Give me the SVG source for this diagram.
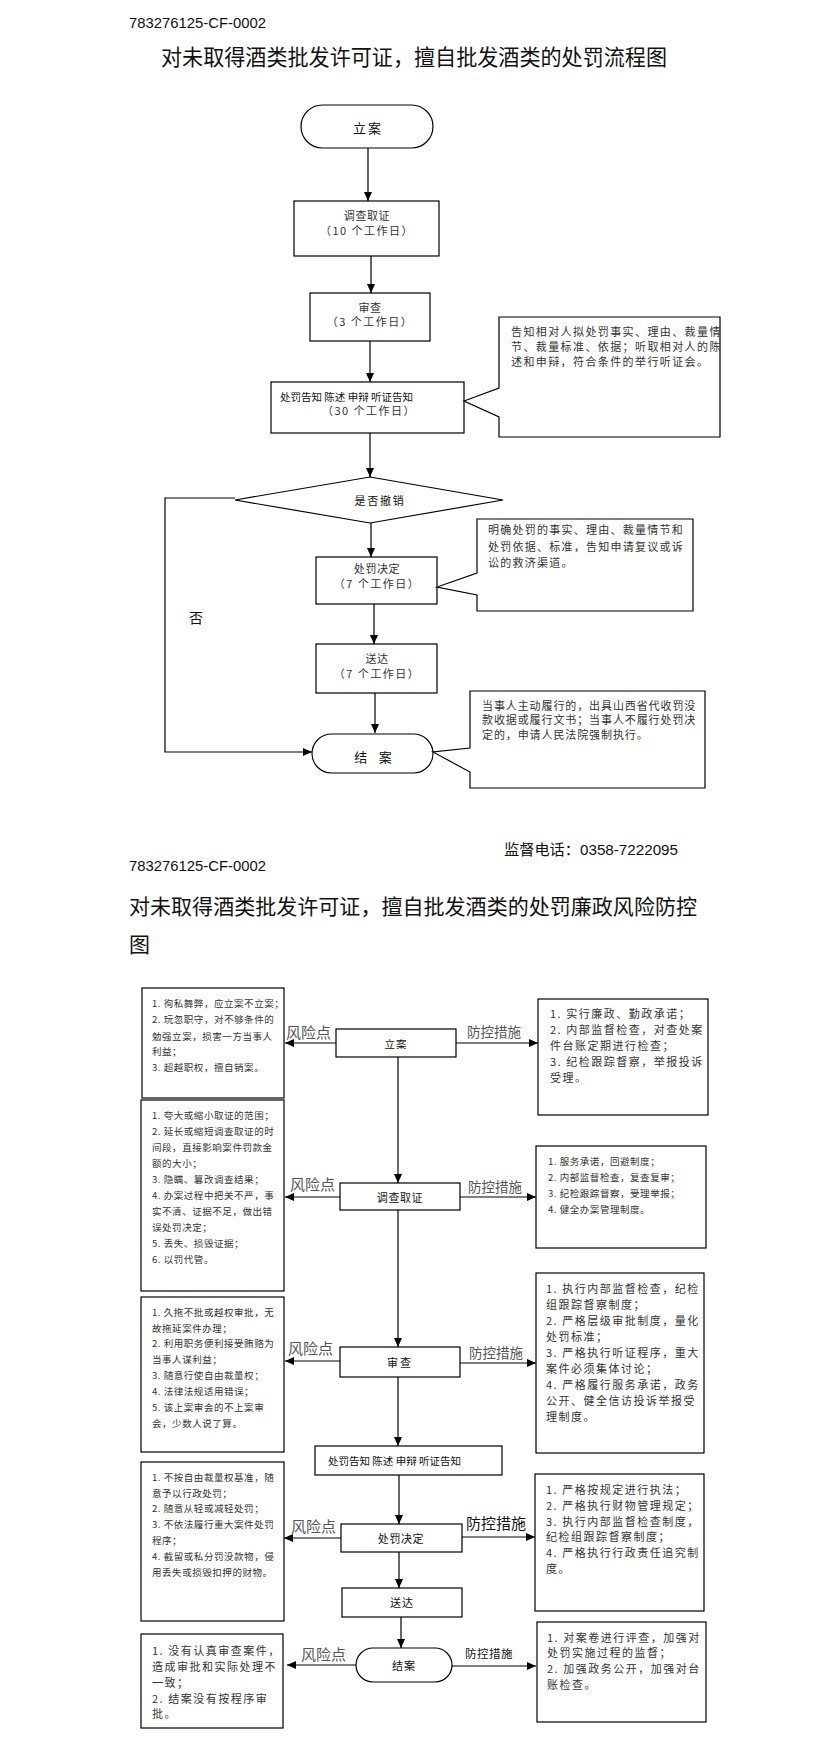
<svg xmlns="http://www.w3.org/2000/svg" width="823" height="1744" viewBox="0 0 823 1744">
<style>
.bg{fill:#fff}
.box{fill:#fff;stroke:#000;stroke-width:1.2}
.ln{fill:none;stroke:#000;stroke-width:1.2}
.hl{fill:none;stroke:#555;stroke-width:1.5}
.cj{font-family:"Noto Sans CJK SC","Noto Sans CJK JP",sans-serif;fill:#111}
.num{font-family:"Liberation Sans","Noto Sans CJK SC",sans-serif;fill:#111}
.c{text-anchor:middle;dominant-baseline:central}
.m{dominant-baseline:central}
.bt{font-size:11px;letter-spacing:0.6px;fill:#333}
.co{font-size:11px;fill:#333}
.sm{font-size:9.5px;letter-spacing:0.55px;fill:#333}
.md{font-size:11px;letter-spacing:1.5px;fill:#333}
.lb{font-size:15px;fill:#555}
.lb2{font-size:13.5px;fill:#555}
</style>
<defs>
<marker id="ah" markerWidth="10" markerHeight="8" refX="9" refY="4" orient="auto" markerUnits="userSpaceOnUse"><path d="M0,0 L9,4 L0,8 z" fill="#000"/></marker>
</defs>
<rect class="bg" x="0" y="0" width="823" height="1744"/>

<text class="num" x="129" y="28" font-size="15" textLength="137" lengthAdjust="spacingAndGlyphs">783276125-CF-0002</text>
<text class="cj m" x="161" y="55" font-size="22" textLength="506" lengthAdjust="spacingAndGlyphs">对未取得酒类批发许可证，擅自批发酒类的处罚流程图</text>

<g id="connectors1">
<line class="ln" x1="368" y1="148" x2="368" y2="201" marker-end="url(#ah)"/>
<line class="ln" x1="371" y1="256" x2="371" y2="293" marker-end="url(#ah)"/>
<line class="ln" x1="370" y1="341" x2="370" y2="382" marker-end="url(#ah)"/>
<line class="ln" x1="370" y1="433" x2="370" y2="477" marker-end="url(#ah)"/>
<line class="ln" x1="371" y1="523" x2="371" y2="557" marker-end="url(#ah)"/>
<line class="ln" x1="374" y1="604" x2="374" y2="644" marker-end="url(#ah)"/>
<line class="ln" x1="375" y1="693" x2="375" y2="733" marker-end="url(#ah)"/>
<polyline class="ln" points="235,498 165,498 165,752 312,752" marker-end="url(#ah)"/>
<text class="cj c" x="196" y="617" font-size="14">否</text>
</g>

<g id="n1-lian">
<rect class="box" x="301" y="105" width="132" height="43" rx="21.5"/>
<text class="cj c" x="368" y="127" font-size="13" letter-spacing="2">立案</text>
</g>
<g id="n1-diaocha">
<rect class="box" x="294" y="201" width="145" height="55"/>
<text class="cj c bt" x="367" y="215">调查取证</text>
<text class="cj c md" x="367" y="230">（10 个工作日）</text>
</g>
<g id="n1-shencha">
<rect class="box" x="310" y="293" width="120" height="48"/>
<text class="cj c bt" x="370" y="307">审查</text>
<text class="cj c md" x="370" y="321">（3 个工作日）</text>
</g>
<g id="n1-gaozhi">
<rect class="box" x="271" y="382" width="193" height="51"/>
<text class="cj m" x="280" y="396" font-size="10.5" fill="#333" xml:space="preserve">处罚告知 陈述 申辩 听证告知</text>
<text class="cj c md" x="369" y="410">（30 个工作日）</text>
</g>
<g id="n1-note1">
<path class="box" d="M499,317 H720 V437 H499 V417 L464,401 L499,388 Z"/>
<text class="cj co" x="511" y="336" letter-spacing="1.4">告知相对人拟处罚事实、理由、裁量情</text>
<text class="cj co" x="511" y="351" letter-spacing="1.4">节、裁量标准、依据；听取相对人的陈</text>
<text class="cj co" x="511" y="366" letter-spacing="1.4">述和申辩，符合条件的举行听证会。</text>
</g>
<g id="n1-decision">
<polygon class="box" points="370,477 503,500 370,523 235,500"/>
<text class="cj c" x="380" y="500" font-size="11" letter-spacing="1.8" fill="#333">是否撤销</text>
</g>
<g id="n1-jueding">
<rect class="box" x="316" y="557" width="121" height="47"/>
<text class="cj c bt" x="377" y="568">处罚决定</text>
<text class="cj c md" x="377" y="583">（7 个工作日）</text>
</g>
<g id="n1-note2">
<path class="box" d="M477,519 H693 V611 H477 V595 L437,587 L477,573 Z"/>
<text class="cj co" x="488" y="534" letter-spacing="1.25">明确处罚的事实、理由、裁量情节和</text>
<text class="cj co" x="488" y="551" letter-spacing="1.25">处罚依据、标准，告知申请复议或诉</text>
<text class="cj co" x="488" y="567" letter-spacing="1.25">讼的救济渠道。</text>
</g>
<g id="n1-songda">
<rect class="box" x="316" y="644" width="121" height="49"/>
<text class="cj c bt" x="377" y="658">送达</text>
<text class="cj c md" x="377" y="673">（7 个工作日）</text>
</g>
<g id="n1-jiean">
<rect class="box" x="312" y="734" width="121" height="39" rx="19.5"/>
<text class="cj c" x="373" y="756" font-size="13" xml:space="preserve">结    案</text>
</g>
<g id="n1-note3">
<path class="box" d="M470,691 H705 V788 H470 V772 L433,752 L470,748 Z"/>
<text class="cj co" x="482" y="710" letter-spacing="0.9">当事人主动履行的，出具山西省代收罚没</text>
<text class="cj co" x="482" y="724" letter-spacing="0.9">款收据或履行文书；当事人不履行处罚决</text>
<text class="cj co" x="482" y="739" letter-spacing="0.9">定的，申请人民法院强制执行。</text>
</g>

<text class="num" x="504" y="855" font-size="15" textLength="174" lengthAdjust="spacingAndGlyphs">监督电话：0358-7222095</text>
<text class="num" x="129" y="871" font-size="15" textLength="137" lengthAdjust="spacingAndGlyphs">783276125-CF-0002</text>
<text class="cj m" x="129" y="905" font-size="21" textLength="568" lengthAdjust="spacingAndGlyphs">对未取得酒类批发许可证，擅自批发酒类的处罚廉政风险防控</text>
<text class="cj m" x="129" y="943" font-size="21">图</text>

<g id="connectors2">
<line class="ln" x1="398" y1="1057" x2="398" y2="1183" marker-end="url(#ah)"/>
<line class="ln" x1="398" y1="1210" x2="398" y2="1347" marker-end="url(#ah)"/>
<line class="ln" x1="398" y1="1377" x2="398" y2="1446" marker-end="url(#ah)"/>
<line class="ln" x1="399" y1="1475" x2="399" y2="1524" marker-end="url(#ah)"/>
<line class="ln" x1="399" y1="1552" x2="399" y2="1588" marker-end="url(#ah)"/>
<line class="ln" x1="401" y1="1617" x2="401" y2="1648" marker-end="url(#ah)"/>

<line class="hl" x1="336" y1="1043" x2="285" y2="1043" marker-end="url(#ah)"/>
<line class="hl" x1="456" y1="1043" x2="538" y2="1043" marker-end="url(#ah)"/>
<line class="hl" x1="340" y1="1197" x2="285" y2="1197" marker-end="url(#ah)"/>
<line class="hl" x1="460" y1="1197" x2="536" y2="1197" marker-end="url(#ah)"/>
<line class="hl" x1="340" y1="1361" x2="285" y2="1361" marker-end="url(#ah)"/>
<line class="hl" x1="460" y1="1363" x2="536" y2="1363" marker-end="url(#ah)"/>
<line class="hl" x1="341" y1="1538" x2="284" y2="1538" marker-end="url(#ah)"/>
<line class="hl" x1="462" y1="1537" x2="535" y2="1537" marker-end="url(#ah)"/>
<line class="hl" x1="356" y1="1665" x2="287" y2="1665" marker-end="url(#ah)"/>
<line class="hl" x1="452" y1="1666" x2="536" y2="1666" marker-end="url(#ah)"/>

<text class="cj m lb" x="286" y="1031">风险点</text>
<text class="cj m lb2" x="467" y="1031">防控措施</text>
<text class="cj m lb" x="290" y="1183">风险点</text>
<text class="cj m lb2" x="468" y="1186">防控措施</text>
<text class="cj m lb" x="288" y="1347">风险点</text>
<text class="cj m lb2" x="469" y="1352">防控措施</text>
<text class="cj m lb" x="291" y="1525">风险点</text>
<text class="cj m" x="466" y="1522" font-size="15" fill="#555">防控措施</text>
<text class="cj m lb" x="301" y="1653">风险点</text>
<text class="cj m" x="465" y="1653" font-size="11.5" fill="#555" letter-spacing="0.5">防控措施</text>
</g>

<g id="n2-lian">
<rect class="box" x="336" y="1029" width="120" height="28"/>
<text class="cj c" x="396" y="1043" font-size="10.5" letter-spacing="1" fill="#333">立案</text>
</g>
<g id="n2-diaocha">
<rect class="box" x="340" y="1183" width="120" height="27"/>
<text class="cj c" x="400" y="1197" font-size="11" letter-spacing="0.6" fill="#333">调查取证</text>
</g>
<g id="n2-shencha">
<rect class="box" x="340" y="1347" width="120" height="30"/>
<text class="cj c" x="400" y="1362" font-size="11" letter-spacing="2" fill="#333">审查</text>
</g>
<g id="n2-gaozhi">
<rect class="box" x="315" y="1446" width="187" height="29"/>
<text class="cj m" x="328" y="1460" font-size="10.5" fill="#333" xml:space="preserve">处罚告知 陈述 申辩 听证告知</text>
</g>
<g id="n2-jueding">
<rect class="box" x="341" y="1524" width="121" height="28"/>
<text class="cj c" x="401" y="1538" font-size="11" letter-spacing="0.6" fill="#333">处罚决定</text>
</g>
<g id="n2-songda">
<rect class="box" x="342" y="1588" width="120" height="29"/>
<text class="cj c" x="402" y="1602" font-size="11" letter-spacing="1" fill="#333">送达</text>
</g>
<g id="n2-jiean">
<rect class="box" x="356" y="1648" width="96" height="34" rx="17"/>
<text class="cj c" x="404" y="1665" font-size="11" letter-spacing="1" fill="#333">结案</text>
</g>

<g id="risk1">
<rect class="box" x="142" y="988" width="142" height="110"/>
<text class="cj m sm" x="152" y="1003">1. 徇私舞弊，应立案不立案；</text>
<text class="cj m sm" x="152" y="1019">2. 玩忽职守，对不够条件的</text>
<text class="cj m sm" x="152" y="1036">勉强立案，损害一方当事人</text>
<text class="cj m sm" x="152" y="1051">利益；</text>
<text class="cj m sm" x="152" y="1067">3. 超越职权，擅自销案。</text>
</g>
<g id="risk2">
<rect class="box" x="141" y="1100" width="143" height="191"/>
<text class="cj m sm" x="152" y="1115">1. 夸大或缩小取证的范围；</text>
<text class="cj m sm" x="152" y="1131">2. 延长或缩短调查取证的时</text>
<text class="cj m sm" x="152" y="1147">间段，直接影响案件罚款金</text>
<text class="cj m sm" x="152" y="1163">额的大小；</text>
<text class="cj m sm" x="152" y="1179">3. 隐瞒、篡改调查结果；</text>
<text class="cj m sm" x="152" y="1195">4. 办案过程中把关不严，事</text>
<text class="cj m sm" x="152" y="1211">实不清、证据不足，做出错</text>
<text class="cj m sm" x="152" y="1227">误处罚决定；</text>
<text class="cj m sm" x="152" y="1243">5. 丢失、损毁证据；</text>
<text class="cj m sm" x="152" y="1259">6. 以罚代管。</text>
</g>
<g id="risk3">
<rect class="box" x="141" y="1297" width="143" height="155"/>
<text class="cj m sm" x="152" y="1312">1. 久拖不批或越权审批，无</text>
<text class="cj m sm" x="152" y="1328">故拖延案件办理；</text>
<text class="cj m sm" x="152" y="1343">2. 利用职务便利接受贿赂为</text>
<text class="cj m sm" x="152" y="1359">当事人谋利益；</text>
<text class="cj m sm" x="152" y="1375">3. 随意行使自由裁量权；</text>
<text class="cj m sm" x="152" y="1391">4. 法律法规适用错误；</text>
<text class="cj m sm" x="152" y="1407">5. 该上案审会的不上案审</text>
<text class="cj m sm" x="152" y="1423">会，少数人说了算。</text>
</g>
<g id="risk4">
<rect class="box" x="141" y="1462" width="143" height="159"/>
<text class="cj m sm" x="152" y="1477">1. 不按自由裁量权基准，随</text>
<text class="cj m sm" x="152" y="1493">意予以行政处罚；</text>
<text class="cj m sm" x="152" y="1508">2. 随意从轻或减轻处罚；</text>
<text class="cj m sm" x="152" y="1524">3. 不依法履行重大案件处罚</text>
<text class="cj m sm" x="152" y="1540">程序；</text>
<text class="cj m sm" x="152" y="1556">4. 截留或私分罚没款物，侵</text>
<text class="cj m sm" x="152" y="1572">用丢失或损毁扣押的财物。</text>
</g>
<g id="risk5">
<rect class="box" x="141" y="1634" width="142" height="94"/>
<text class="cj m md" x="152" y="1650" letter-spacing="1">1. 没有认真审查案件，</text>
<text class="cj m md" x="152" y="1666" letter-spacing="1">造成审批和实际处理不</text>
<text class="cj m md" x="152" y="1682" letter-spacing="1">一致；</text>
<text class="cj m md" x="152" y="1698" letter-spacing="1">2. 结案没有按程序审</text>
<text class="cj m md" x="152" y="1713" letter-spacing="1">批。</text>
</g>

<g id="ctrl1">
<rect class="box" x="538" y="999" width="170" height="116"/>
<text class="cj m md" x="550" y="1013">1. 实行廉政、勤政承诺；</text>
<text class="cj m md" x="550" y="1029">2. 内部监督检查，对查处案</text>
<text class="cj m md" x="550" y="1045">件台账定期进行检查；</text>
<text class="cj m md" x="550" y="1061">3. 纪检跟踪督察，举报投诉</text>
<text class="cj m md" x="550" y="1077">受理。</text>
</g>
<g id="ctrl2">
<rect class="box" x="536" y="1146" width="170" height="102"/>
<text class="cj m sm" x="548" y="1161">1. 服务承诺，回避制度；</text>
<text class="cj m sm" x="548" y="1177">2. 内部监督检查，复查复审；</text>
<text class="cj m sm" x="548" y="1193">3. 纪检跟踪督察，受理举报；</text>
<text class="cj m sm" x="548" y="1209">4. 健全办案管理制度。</text>
</g>
<g id="ctrl3">
<rect class="box" x="536" y="1273" width="168" height="180"/>
<text class="cj m md" x="546" y="1288">1. 执行内部监督检查，纪检</text>
<text class="cj m md" x="546" y="1304">组跟踪督察制度；</text>
<text class="cj m md" x="546" y="1320">2. 严格层级审批制度，量化</text>
<text class="cj m md" x="546" y="1336">处罚标准；</text>
<text class="cj m md" x="546" y="1352">3. 严格执行听证程序，重大</text>
<text class="cj m md" x="546" y="1368">案件必须集体讨论；</text>
<text class="cj m md" x="546" y="1384">4. 严格履行服务承诺，政务</text>
<text class="cj m md" x="546" y="1400">公开、健全信访投诉举报受</text>
<text class="cj m md" x="546" y="1416">理制度。</text>
</g>
<g id="ctrl4">
<rect class="box" x="535" y="1474" width="169" height="137"/>
<text class="cj m md" x="546" y="1489">1. 严格按规定进行执法；</text>
<text class="cj m md" x="546" y="1505">2. 严格执行财物管理规定；</text>
<text class="cj m md" x="546" y="1521">3. 执行内部监督检查制度，</text>
<text class="cj m md" x="546" y="1536">纪检组跟踪督察制度；</text>
<text class="cj m md" x="546" y="1552">4. 严格执行行政责任追究制</text>
<text class="cj m md" x="546" y="1568">度。</text>
</g>
<g id="ctrl5">
<rect class="box" x="537" y="1622" width="169" height="100"/>
<text class="cj m md" x="547" y="1637">1. 对案卷进行评查，加强对</text>
<text class="cj m md" x="547" y="1652">处罚实施过程的监督；</text>
<text class="cj m md" x="547" y="1668">2. 加强政务公开，加强对台</text>
<text class="cj m md" x="547" y="1684">账检查。</text>
</g>
</svg>
